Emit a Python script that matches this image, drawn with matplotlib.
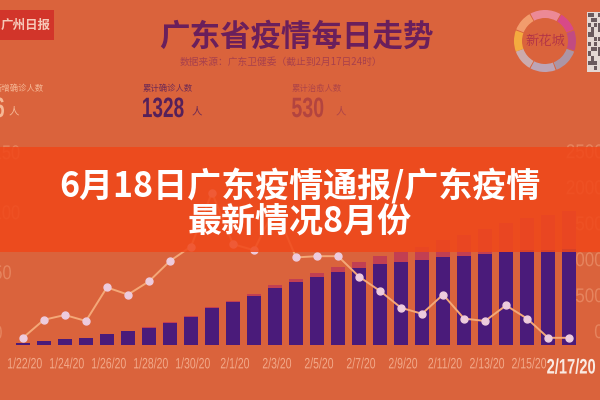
import matplotlib
matplotlib.use('Agg')
import matplotlib.pyplot as plt
from matplotlib.font_manager import FontProperties
from matplotlib.patches import Rectangle, Wedge, PathPatch
from matplotlib.textpath import TextPath
from matplotlib.transforms import Affine2D
import numpy as np

CJK = ['Noto Sans CJK SC', 'DejaVu Sans']
plt.rcParams['font.family'] = CJK

# ---------------- data ----------------
dates = ['1/22/20', '1/23/20', '1/24/20', '1/25/20', '1/26/20', '1/27/20', '1/28/20',
         '1/29/20', '1/30/20', '1/31/20', '2/1/20', '2/2/20', '2/3/20', '2/4/20',
         '2/5/20', '2/6/20', '2/7/20', '2/8/20', '2/9/20', '2/10/20', '2/11/20',
         '2/12/20', '2/13/20', '2/14/20', '2/15/20', '2/16/20', '2/17/20']
cum_confirmed = [32, 53, 78, 98, 146, 188, 241, 311, 393, 520, 604, 683, 797, 870,
                 944, 1018, 1075, 1120, 1151, 1177, 1219, 1241, 1261, 1294, 1316, 1322, 1328]
cum_cured = [0, 0, 2, 2, 2, 4, 5, 6, 10, 11, 14, 24, 34, 40,
             51, 64, 83, 110, 140, 184, 239, 287, 350, 400, 448, 484, 530]
daily_new = [6, 21, 25, 20, 48, 42, 53, 70, 82, 127, 84, 79, 114, 73,
             74, 74, 57, 45, 31, 26, 42, 22, 20, 33, 22, 6, 6]
left_ticks = [0, 50, 100, 150]
right_ticks = [0, 500, 1000, 1500, 2000, 2500]
xtick_idx = list(range(0, len(dates), 2))
xtick_labels = dates[::2]

BG = '#DA633C'
PURPLE = '#4A1B7A'
CAP = '#C23F52'
LINE = '#F4A878'
MARK = '#EDCBDD'
FAINT = '#E6845E'

W, H = 600, 400
fig = plt.figure(figsize=(6, 4), dpi=100, facecolor=BG)


def fr(x0, y0, x1, y1):
    return [x0 / W, 1 - y1 / H, (x1 - x0) / W, (y1 - y0) / H]


def pixel_axes(z):
    a = fig.add_axes([0, 0, 1, 1], zorder=z)
    a.set_xlim(0, W)
    a.set_ylim(H, 0)
    a.axis('off')
    a.patch.set_visible(False)
    return a


under = pixel_axes(-1)

# ---------------- chart ----------------
axb = fig.add_axes(fr(4, 150, 588, 345))
axb.set_facecolor('none')
x = np.arange(len(dates))
axb.bar(x, cum_confirmed, width=0.64, color=PURPLE, zorder=2, lw=0)
axb.bar(x, cum_cured, bottom=cum_confirmed, width=0.64, color=CAP, zorder=2, lw=0)
axb.set_xlim(-0.9, len(dates) - 0.1)
axb.set_ylim(0, 195 / 0.072)
axb.set_xticks([])
axb.set_yticks([])
for s in axb.spines.values():
    s.set_visible(False)

axl = axb.twinx()
axl.patch.set_visible(False)
axl.plot(x, daily_new, color=LINE, lw=1.4, marker='o', ms=5, mfc=MARK, mec=MARK, zorder=3)
axl.set_ylim(0, 195 / 1.2)
axl.set_yticks([])
for s in axl.spines.values():
    s.set_visible(False)

deco = pixel_axes(10)


def to_px(ax, xv, yv):
    px, py = ax.transData.transform((xv, yv))
    return px, H - py


def ntext(target, px, py, s, em, color, ha='center', va='center', sx=0.75,
          bold=False, zorder=2):
    prop = FontProperties(family='Liberation Sans', weight='bold' if bold else 'normal')
    tp = TextPath((0, 0), s, size=em, prop=prop)
    ext = tp.get_extents()
    cap = em * 0.716
    dx = {'left': -ext.x0 * sx, 'center': -(ext.x0 + ext.x1) / 2 * sx,
          'right': -ext.x1 * sx}[ha]
    dy = {'center': -cap / 2, 'top': -cap, 'bottom': 0}[va]
    tr = (Affine2D().scale(sx, 1).translate(dx, dy).scale(1, -1).translate(px, py)
          + target.transData)
    target.add_patch(PathPatch(tp, transform=tr, facecolor=color, lw=0, zorder=zorder))


# tick labels (drawn underneath the bars)
for v in right_ticks:
    px, py = to_px(axb, 0, v)
    ntext(under, 603, py - 14, str(v), 20, FAINT, ha='right', sx=0.85)
for v in left_ticks:
    px, py = to_px(axl, 0, v)
    ntext(under, -6, py - 13, str(v), 20, FAINT, ha='left', sx=0.82)
for i, lab in zip(xtick_idx, xtick_labels):
    px, py = to_px(axb, i, 0)
    if i == len(dates) - 1:
        ntext(under, px + 2, py + 21, lab, 21, '#FAEAE2', sx=0.7, bold=True, zorder=3)
    else:
        ntext(under, px + 2, py + 18, lab, 15, '#F2A98A', sx=0.7)

# ---------------- decorations ----------------
# newspaper logo
deco.add_patch(Rectangle((0, 10), 54, 30, color='#D2352A', lw=0))
deco.text(26, 25, '广州日报', ha='center', va='center', fontsize=9,
          fontweight='bold', color='#F6C8B8')

# title and subtitle
deco.text(296, 37, '广东省疫情每日走势', ha='center', va='center', fontsize=22,
          fontweight='bold', color='#6A1F5C')
deco.text(281, 62, '数据来源：广东卫健委（截止到2月17日24时）', ha='center', va='center',
          fontsize=7, color='#A8404C')

# stats
deco.text(-6, 88, '新增确诊人数', ha='left', va='center', fontsize=6, color='#F5B896')
ntext(deco, 4, 107, '6', 28, '#F5B896', ha='right', sx=0.68, bold=True)
deco.text(9, 111, '人', ha='left', va='center', fontsize=7.5, color='#F5B896')

deco.text(143, 88, '累计确诊人数', ha='left', va='center', fontsize=6, color='#6E2A55')
ntext(deco, 143, 107, '1328', 28, '#55205A', ha='left', sx=0.68, bold=True)
deco.text(192, 111, '人', ha='left', va='center', fontsize=7.5, color='#6E2A55')

deco.text(292, 88, '累计治愈人数', ha='left', va='center', fontsize=6, color='#AE4448')
ntext(deco, 292, 107, '530', 28, '#B3443F', ha='left', sx=0.7, bold=True)
deco.text(336, 111, '人', ha='left', va='center', fontsize=7.5, color='#AE4448')

# flower logo
cx, cy, r = 545, 41, 31
segs = [(60, 118, '#EE8C9C'), (22, 58, '#D8488C'), (-18, 20, '#C04A86'),
        (-68, -20, '#AA98AC'), (-118, -70, '#BCA8BC'), (-160, -120, '#CCB0B4'),
        (160, 200, '#F6B040'), (120, 158, '#F4A070')]
for t1, t2, c in segs:
    deco.add_patch(Wedge((cx, cy), r, -t2, -t1, width=8, color=c, lw=0, alpha=0.95))
deco.text(cx, cy, '新花城', ha='center', va='center', fontsize=9.5, color='#B03048',
          family=['Noto Serif CJK SC', 'Noto Sans CJK SC', 'DejaVu Sans'])

# QR code fragment
deco.add_patch(Rectangle((587, 12), 15, 60, color='#E4D8D4', lw=0))
qr = ['1101', '0110', '1011', '0101', '1100', '0011', '1010', '0111', '1001', '0100',
      '1110', '0010']
for i, row in enumerate(qr):
    for j, ch in enumerate(row):
        if ch == '1':
            deco.add_patch(Rectangle((588 + j * 3.2, 13 + i * 4.8), 3, 4.4,
                                     color='#6A5A5E', lw=0))

# banner overlay
deco.add_patch(Rectangle((0, 147), W, 105, color='#F0481A', alpha=0.86, lw=0, zorder=5))
deco.text(300, 186, '6月18日广东疫情通报/广东疫情', ha='center', va='center',
          fontsize=24.5, fontweight='bold', color='white', zorder=6)
deco.text(300, 222, '最新情况8月份', ha='center', va='center',
          fontsize=24.5, fontweight='bold', color='white', zorder=6)

fig.savefig('out.png', dpi=100, facecolor=BG)
